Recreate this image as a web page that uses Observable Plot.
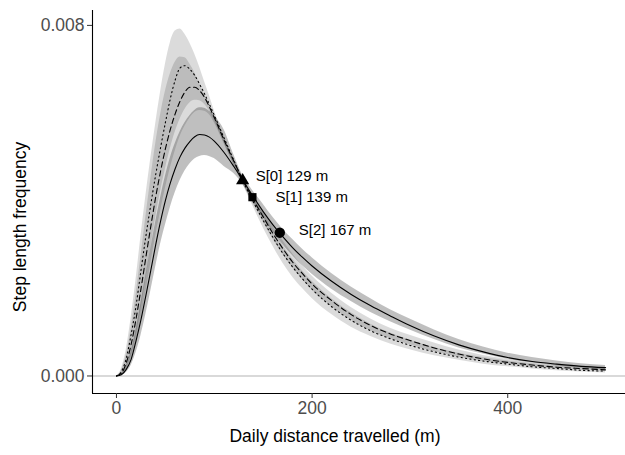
<!DOCTYPE html>
<html><head><meta charset="utf-8">
<script src="https://cdn.jsdelivr.net/npm/d3@7"></script>
<script src="https://cdn.jsdelivr.net/npm/@observablehq/plot@0.6"></script>
<style>body{margin:0;background:#fff;} #chart svg{font-family:"Liberation Sans",Arial,sans-serif;}</style>
</head><body><div id="chart"></div>
<script>
const distance = [0,5,10,15,20,25,30,35,40,45,50,55,60,65,70,75,80,85,90,95,100,110,120,129,139,150,160,170,180,190,200,220,240,260,280,300,325,350,375,400,425,450,475,500];

// S[0] (dotted)
const s0Mean = [0,0.0001,0.0004,0.00095,0.0016,0.0024,0.00318,0.0039,0.00458,0.0052,0.00578,0.00632,0.00675,0.00703,0.00708,0.007,0.00686,0.00666,0.00644,0.0062,0.00595,0.00543,0.00492,0.00446,0.00401,0.00355,0.00316,0.0028,0.00249,0.00222,0.00198,0.00158,0.00127,0.00103,0.00085,0.0007,0.00055,0.00043,0.00034,0.00027,0.00021,0.00017,0.00013,0.00011];
const s0Lo = [0,0.00003,0.00016,0.00045,0.0009,0.0015,0.0022,0.0029,0.0036,0.0042,0.00472,0.00518,0.00556,0.00586,0.00608,0.00623,0.00629,0.00628,0.0062,0.00605,0.00583,0.00532,0.00481,0.00438,0.0039,0.00338,0.00296,0.00258,0.00226,0.002,0.00177,0.0014,0.00111,0.0009,0.00073,0.0006,0.00046,0.00036,0.00027,0.00021,0.00016,0.00012,0.00009,0.00007];
const s0Hi = [0,0.00016,0.0006,0.00133,0.0022,0.00318,0.0041,0.00495,0.00574,0.00647,0.00711,0.0076,0.00787,0.00792,0.0078,0.0076,0.00735,0.00705,0.00672,0.0064,0.00606,0.00548,0.00496,0.00452,0.00412,0.0037,0.00333,0.00298,0.00267,0.0024,0.00216,0.00176,0.00144,0.00118,0.00098,0.00082,0.00065,0.00052,0.00042,0.00034,0.00028,0.00023,0.00019,0.00016];

// S[1] (dashed)
const s1Mean = [0,0.00006,0.0003,0.00072,0.0013,0.00198,0.0027,0.0034,0.00407,0.00466,0.00518,0.00562,0.00598,0.00627,0.00648,0.00659,0.00659,0.00651,0.00636,0.00614,0.0059,0.00538,0.0049,0.00448,0.00406,0.00363,0.00325,0.00291,0.0026,0.00234,0.0021,0.00172,0.0014,0.00115,0.00096,0.00081,0.00064,0.0005,0.00039,0.00031,0.00025,0.0002,0.00017,0.00014];
const s1Lo = [0,0.00002,0.00014,0.00038,0.00078,0.0013,0.0019,0.00255,0.00318,0.00375,0.00428,0.00474,0.00513,0.00546,0.0057,0.00588,0.00601,0.00606,0.00604,0.00596,0.00578,0.0053,0.00482,0.0044,0.00396,0.00351,0.00312,0.00278,0.00247,0.0022,0.00196,0.00158,0.00127,0.00103,0.00085,0.00071,0.00055,0.00043,0.00033,0.00026,0.0002,0.00016,0.00013,0.00011];
const s1Hi = [0,0.00012,0.00048,0.00108,0.00185,0.00272,0.00362,0.00448,0.00528,0.00595,0.00649,0.00689,0.00716,0.00728,0.00726,0.00712,0.00692,0.00668,0.00643,0.00618,0.00594,0.00543,0.00494,0.00454,0.00416,0.00378,0.00342,0.00309,0.00279,0.00252,0.00228,0.00189,0.00156,0.0013,0.00109,0.00093,0.00075,0.00059,0.00047,0.00038,0.00031,0.00025,0.00021,0.00018];

// S[2] (solid)
const s2Mean = [0,0.00003,0.00015,0.00038,0.0008,0.00128,0.00183,0.0024,0.00298,0.00352,0.004,0.0044,0.00473,0.005,0.0052,0.00535,0.00546,0.00551,0.0055,0.00545,0.00536,0.0051,0.00478,0.00447,0.00412,0.00375,0.00345,0.00318,0.00293,0.00271,0.00251,0.00216,0.00186,0.0016,0.00137,0.00115,0.00091,0.00071,0.00055,0.00042,0.00033,0.00027,0.00022,0.00019];
const s2Lo = [0,0.00001,0.00008,0.00024,0.00053,0.00092,0.0014,0.00193,0.00248,0.003,0.00344,0.00384,0.00418,0.00446,0.00468,0.00484,0.00495,0.00501,0.00503,0.00501,0.00496,0.00478,0.00462,0.00438,0.004,0.00362,0.0033,0.003,0.00275,0.00252,0.00232,0.00198,0.0017,0.00145,0.00124,0.00105,0.00083,0.00064,0.0005,0.00038,0.0003,0.00023,0.00018,0.00014];
const s2Hi = [0,0.00005,0.00024,0.00055,0.00105,0.00165,0.00228,0.0029,0.0035,0.00405,0.00455,0.00497,0.0053,0.00557,0.00578,0.00594,0.00606,0.00612,0.00611,0.00604,0.00594,0.00562,0.00505,0.00458,0.00424,0.00392,0.00362,0.00335,0.00312,0.0029,0.0027,0.00234,0.00203,0.00176,0.00151,0.0013,0.00105,0.00083,0.00066,0.00052,0.00042,0.00034,0.00028,0.00024];

const seriesNames = ["S[0]", "S[1]", "S[2]"];
const meanDistance = [129, 139, 167];
const meanFrequency = [0.00446, 0.00408, 0.00327];
const xTicks = [0, 200, 400];
const yTicks = [0, 0.008];
const xTitle = "Daily distance travelled (m)";
const yTitle = "Step length frequency";

const seriesData = [[s0Mean, s0Lo, s0Hi], [s1Mean, s1Lo, s1Hi], [s2Mean, s2Lo, s2Hi]];
const rows = seriesNames.map((name, i) => distance.map((x, j) => ({
  series: name, x, y: seriesData[i][0][j], lo: seriesData[i][1][j], hi: seriesData[i][2][j]
})));
const points = seriesNames.map((name, i) => ({series: name, x: meanDistance[i], y: meanFrequency[i], label: `${name} ${meanDistance[i]} m`}));

const ribbonOpacity = [0.14, 0.14, 0.25];
const dashes = ["1.2,3.2", "5.5,3.5", null];
const symbols = ["triangle", "square", "circle"];
const symbolR = [4.9, 4.6, 5.2];
const labelDx = [13, 23, 19];
const labelDy = [-4, 0, -2];

const chart = Plot.plot({
  width: 625, height: 455,
  marginLeft: 92, marginRight: 0, marginTop: 10, marginBottom: 62,
  style: {fontFamily: "'Liberation Sans', Arial, sans-serif", background: "#fff", color: "#000"},
  x: {domain: [-24.5, 520.4]},
  y: {domain: [-0.0004, 0.00834]},
  marks: [
    Plot.ruleY([0], {stroke: "#b3b3b3", strokeWidth: 1.1}),
    ...rows.map((r, i) => Plot.areaY(r, {x: "x", y1: "lo", y2: "hi", fill: "#000", fillOpacity: ribbonOpacity[i], curve: "monotone-x"})),
    ...rows.map((r, i) => Plot.line(r, {x: "x", y: "y", stroke: "#000", strokeWidth: 1.1, strokeDasharray: dashes[i], curve: "monotone-x"})),
    ...points.map((p, i) => Plot.dot([p], {x: "x", y: "y", symbol: symbols[i], r: symbolR[i], fill: "#000", stroke: "none"})),
    ...points.map((p, i) => Plot.text([p], {x: "x", y: "y", text: "label", textAnchor: "start", dx: labelDx[i], dy: labelDy[i], fontSize: 15, fill: "#000"})),
    Plot.ruleX([-24.5], {stroke: "#000", strokeWidth: 1.1}),
    Plot.ruleY([-0.0004], {stroke: "#000", strokeWidth: 1.1}),
    Plot.axisX({ticks: xTicks, tickSize: 5, tickPadding: 3, fontSize: 17.5, label: null, stroke: "#333", fill: "#4d4d4d"}),
    Plot.axisY({ticks: yTicks, tickFormat: ".3f", tickSize: 5, tickPadding: 3, fontSize: 17.5, label: null, stroke: "#333", fill: "#4d4d4d"}),
    Plot.text([xTitle], {frameAnchor: "bottom", dy: 48, dx: -24, fontSize: 17.5, fill: "#000"}),
    Plot.text([yTitle], {frameAnchor: "left", textAnchor: "middle", dx: -72, dy: 25, rotate: -90, fontSize: 17.5, fill: "#000"})
  ]
});
document.getElementById("chart").appendChild(chart);
</script>
</body></html>
